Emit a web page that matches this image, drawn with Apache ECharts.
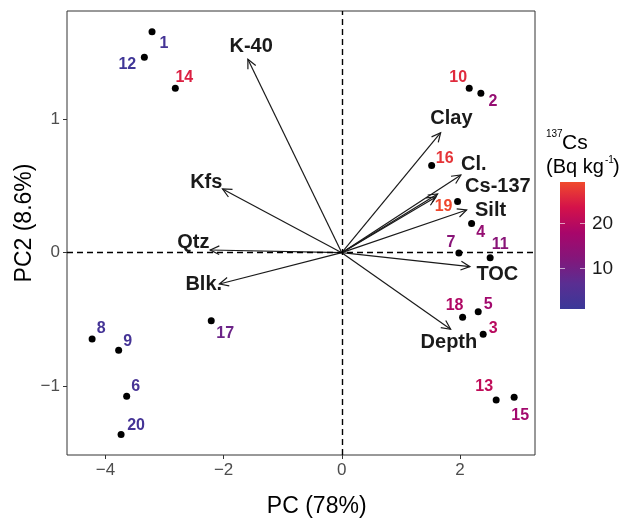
<!DOCTYPE html>
<html>
<head>
<meta charset="utf-8">
<script src="https://cdn.jsdelivr.net/npm/echarts@6/dist/echarts.min.js"></script>
<style>html,body{margin:0;padding:0;background:#fff}#c{width:629px;height:519px}</style>
</head>
<body>
<div id="c"></div>
<script>
// ---------- data ----------
const sampleIds = ['1','2','3','4','5','6','7','8','9','10','11','12','13','14','15','16','17','18','19','20'];
const samplePC1 = [-3.211, 2.354, 2.393, 2.197, 2.309, -3.640, 1.982, -4.225, -3.776, 2.157, 2.511, -3.341, 2.613, -2.817, 2.917, 1.521, -2.209, 2.045, 1.960, -3.735];
const samplePC2 = [1.658, 1.196, -0.612, 0.218, -0.443, -1.077, -0.002, -0.647, -0.732, 1.233, -0.038, 1.466, -1.105, 1.233, -1.085, 0.653, -0.510, -0.485, 0.383, -1.365];
const sampleCs = [3, 15, 20, 15, 17, 3.5, 13, 3, 3, 26, 13, 2, 21, 25, 17, 27, 9, 19, 29, 3];

const loadingNames = ['K-40', 'Kfs', 'Qtz', 'Blk.', 'Clay', 'Cl.', 'Cs-137', '', 'Silt', 'TOC', 'Depth'];
const loadingPC1 = [-1.589, -2.018, -2.226, -2.070, 1.673, 2.016, 1.622, 1.594, 2.113, 2.168, 1.842];
const loadingPC2 = [1.451, 0.478, 0.020, -0.235, 0.900, 0.583, 0.440, 0.418, 0.320, -0.105, -0.575];
const loadingTextPC1 = [-1.533, -2.293, -2.513, -2.336, 1.856, 2.236, 2.642, null, 2.518, 2.633, 1.813];
const loadingTextPC2 = [1.546, 0.530, 0.080, -0.235, 1.003, 0.658, 0.495, null, 0.315, -0.160, -0.675];

const xTicks = [-4, -2, 0, 2];
const yTicks = [-1, 0, 1];
const csTicks = [10, 20];
const csMin = 1, csMax = 29.2;

// ---------- styles ----------
const FONT = '"Liberation Sans", Arial, Helvetica, sans-serif';
const palette = ['#3A3898', '#5A2E92', '#84167A', '#A8066A', '#D4124A', '#F04A2C'];
const labelNudge = [[12,12],[12,8],[10,-6],[9,9],[10,-7],[9,-10],[-8,-10],[9,-10],[9,-9],[-11,-11],
                    [10,-13],[-17,7],[-12,-13],[9,-11],[6,18],[13,-7],[14,13],[-8,-12],[-14,5],[15,-9]];
const csColor = v => echarts.color.lerp(Math.max(0, Math.min(1, (v - csMin) / (csMax - csMin))), palette);
const minus = v => (v < 0 ? '\u2212' + Math.abs(v) : String(v));

const grid = {left: 67, top: 11, width: 468, height: 444};
const bar = {x: 560, y: 182, w: 25, h: 127};

const chart = echarts.init(document.getElementById('c'), null, {renderer: 'canvas'});

const pointData = sampleIds.map((id, i) => ({
  value: [samplePC1[i], samplePC2[i], id],
  label: {color: csColor(sampleCs[i]), offset: labelNudge[i]}
}));
const arrowData = loadingNames.map((n, i) => [loadingPC1[i], loadingPC2[i], n]);
const arrowTextData = loadingNames.map((n, i) => [loadingTextPC1[i], loadingTextPC2[i], n]).filter(d => d[2] !== '');

// colourbar graphic
const csY = v => bar.y + bar.h - (v - csMin) / (csMax - csMin) * bar.h;
const stops = palette.map((c, i) => ({offset: i / (palette.length - 1), color: c}));
const graphics = [
  {type: 'rect', shape: {x: bar.x, y: bar.y, width: bar.w, height: bar.h},
   style: {fill: new echarts.graphic.LinearGradient(0, 1, 0, 0, stops)}},
  {type: 'text', x: 316.7, y: 507, style: {text: 'PC (78%)', font: '23px ' + FONT, fill: '#000', align: 'center', verticalAlign: 'middle'}},
  {type: 'text', x: 25, y: 223, rotation: Math.PI / 2, style: {text: 'PC2 (8.6%)', font: '23px ' + FONT, fill: '#000', align: 'center', verticalAlign: 'middle'}},
  {type: 'text', x: 546, y: 134, style: {text: '137', font: '10px ' + FONT, fill: '#000', align: 'left', verticalAlign: 'middle'}},
  {type: 'text', x: 562, y: 143, style: {text: 'Cs', font: '21px ' + FONT, fill: '#000', align: 'left', verticalAlign: 'middle'}},
  {type: 'text', x: 546, y: 167, style: {text: '(Bq kg', font: '20px ' + FONT, fill: '#000', align: 'left', verticalAlign: 'middle'}},
  {type: 'text', x: 605, y: 160, style: {text: '-1', font: '10px ' + FONT, fill: '#000', align: 'left', verticalAlign: 'middle'}},
  {type: 'text', x: 613, y: 167, style: {text: ')', font: '20px ' + FONT, fill: '#000', align: 'left', verticalAlign: 'middle'}}
];
csTicks.forEach(t => {
  const y = Math.round(csY(t)) + 0.5;
  graphics.push({type: 'line', shape: {x1: bar.x, y1: y, x2: bar.x + 5, y2: y}, style: {stroke: 'rgba(255,255,255,0.6)', lineWidth: 1}});
  graphics.push({type: 'line', shape: {x1: bar.x + bar.w - 5, y1: y, x2: bar.x + bar.w, y2: y}, style: {stroke: 'rgba(255,255,255,0.6)', lineWidth: 1}});
  graphics.push({type: 'text', x: bar.x + bar.w + 7, y: y, style: {text: String(t), font: '19px ' + FONT, fill: '#1a1a1a', align: 'left', verticalAlign: 'middle'}});
});

const axisCommon = {
  type: 'value', scale: true,
  axisLine: {show: false, onZero: false},
  splitLine: {show: false},
  axisTick: {show: true, inside: false, length: 4, lineStyle: {color: '#333', width: 1}},
  axisLabel: {color: '#4D4D4D', fontSize: 17, fontFamily: FONT, margin: 7, formatter: minus}
};

chart.setOption({
  animation: false,
  backgroundColor: '#fff',
  grid: Object.assign({show: true, borderColor: '#333', borderWidth: 1, backgroundColor: 'transparent'}, grid),
  xAxis: Object.assign({}, axisCommon, {min: -4.65, max: 3.27, position: 'bottom',
    axisTick: Object.assign({}, axisCommon.axisTick, {customValues: xTicks}),
    axisLabel: Object.assign({}, axisCommon.axisLabel, {customValues: xTicks})}),
  yAxis: Object.assign({}, axisCommon, {min: -1.518, max: 1.813, position: 'left',
    axisTick: Object.assign({}, axisCommon.axisTick, {customValues: yTicks}),
    axisLabel: Object.assign({}, axisCommon.axisLabel, {customValues: yTicks})}),
  graphic: graphics,
  series: [
    {
      type: 'scatter', data: [], z: 1, silent: true,
      markLine: {silent: true, symbol: ['none', 'none'], label: {show: false},
        lineStyle: {color: '#000', type: [6, 4], width: 1.4, opacity: 1},
        data: [{xAxis: 0}, {yAxis: 0}]}
    },
    {
      type: 'custom', z: 3, silent: true,
      encode: {x: 0, y: 1},
      data: arrowData,
      renderItem: (params, api) => {
        const o = api.coord([0, 0]);
        const t = api.coord([api.value(0), api.value(1)]);
        const ang = Math.atan2(t[1] - o[1], t[0] - o[0]);
        const L = 10, a = Math.PI / 7;
        const p1 = [t[0] - L * Math.cos(ang - a), t[1] - L * Math.sin(ang - a)];
        const p2 = [t[0] - L * Math.cos(ang + a), t[1] - L * Math.sin(ang + a)];
        return {type: 'group', children: [
          {type: 'line', shape: {x1: o[0], y1: o[1], x2: t[0], y2: t[1]}, style: {stroke: '#1a1a1a', lineWidth: 1.2}},
          {type: 'polyline', shape: {points: [p1, t, p2]}, style: {stroke: '#1a1a1a', lineWidth: 1.2, fill: null}}
        ]};
      }
    },
    {
      type: 'custom', z: 4, silent: true,
      encode: {x: 0, y: 1},
      data: arrowTextData,
      renderItem: (params, api) => {
        const p = api.coord([api.value(0), api.value(1)]);
        return {type: 'text', x: p[0], y: p[1], style: {text: arrowTextData[params.dataIndex][2],
          font: 'bold 20px ' + FONT, fill: '#1a1a1a', align: 'center', verticalAlign: 'middle'}};
      }
    },
    {
      type: 'scatter', z: 5, silent: true,
      symbol: 'circle', symbolSize: 7,
      itemStyle: {color: '#000', opacity: 1},
      label: {show: true, position: 'inside', formatter: p => p.value[2],
        fontFamily: FONT, fontWeight: 'bold', fontSize: 16, opacity: 1},
      data: pointData
    }
  ]
});
</script>
</body>
</html>
